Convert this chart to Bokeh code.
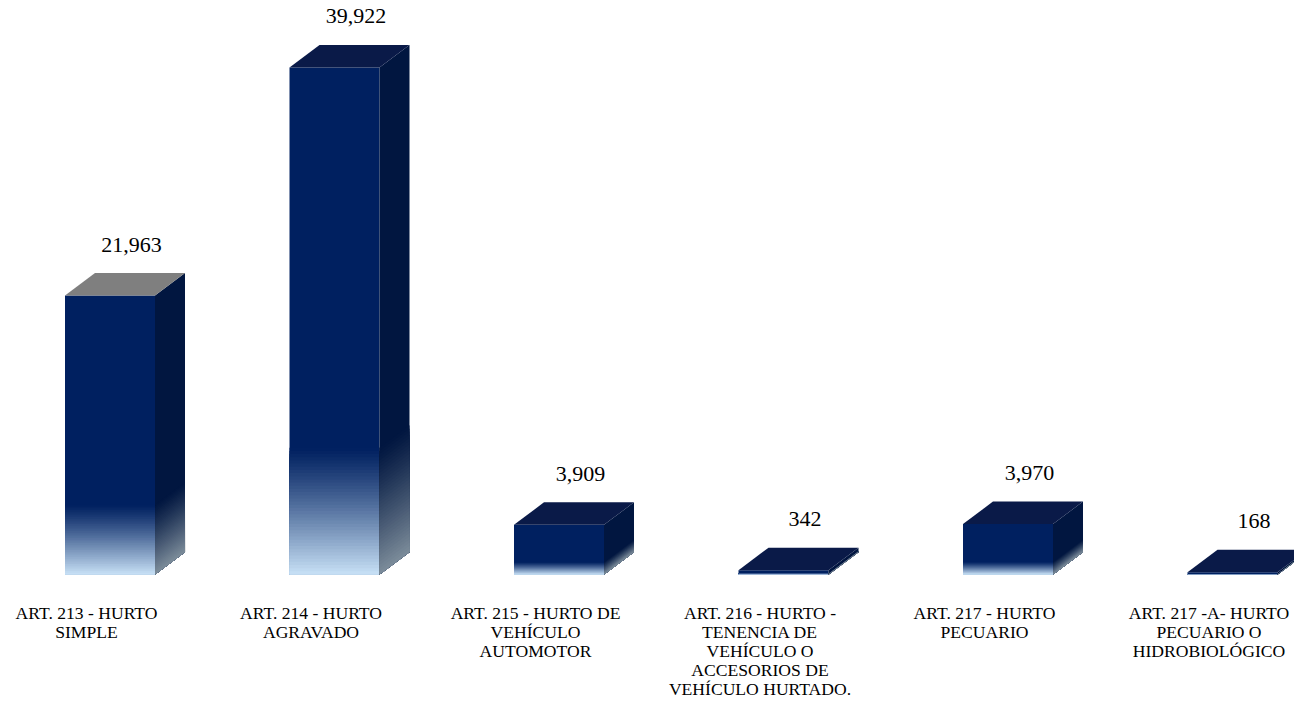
import numpy as np
from bokeh.plotting import figure
from bokeh.models import Range1d
from bokeh.embed import file_html
from bokeh.resources import INLINE
from bokeh.core.properties import value

# ---------------- data ----------------
categories = [
    "ART. 213 - HURTO\nSIMPLE",
    "ART. 214 - HURTO\nAGRAVADO",
    "ART. 215 - HURTO DE\nVEHÍCULO\nAUTOMOTOR",
    "ART. 216 - HURTO -\nTENENCIA DE\nVEHÍCULO O\nACCESORIOS DE\nVEHÍCULO HURTADO.",
    "ART. 217 - HURTO\nPECUARIO",
    "ART. 217 -A- HURTO\nPECUARIO O\nHIDROBIOLÓGICO",
]
counts = [21963, 39922, 3909, 342, 3970, 168]

# ---------------- styles ----------------
TOP_COLORS = ["#7f7f7f", "#0a1a48", "#0a1a48", "#0a1a48", "#0a1a48", "#0a1a48"]
FRONT_TOP = (0, 32, 96)
FRONT_BOTTOM = (200, 225, 246)
SIDE_TOP = (1, 22, 64)
SIDE_BOTTOM = (124, 140, 154)
GRAD_FRAC = 0.25
NSTEP = 40
SERIF = "Liberation Serif"

W, H = 1294, 704
BASE_PX = 574            # baseline (value 0) from top of frame, px
X0 = 0.1169
px_x = 1 / 224.5
X1 = X0 + W * px_x
px_y = 78.73
Y1 = BASE_PX * px_y
Y0 = -(H - BASE_PX) * px_y
DX = 30 * px_x
DY = 22.5 * px_y
HALF = 45 * px_x
SHIFT = 23.5 * px_x
LINE_PX = 19

p = figure(width=W, height=H, x_range=Range1d(X0, X1), y_range=Range1d(Y0, Y1),
           output_backend="svg", toolbar_location=None,
           x_axis_location=None, y_axis_location=None,
           min_border_left=0, min_border_right=0, min_border_top=0,
           min_border_bottom=0)
p.outline_line_color = None
p.xgrid.visible = False
p.ygrid.visible = False
p.background_fill_color = "white"
p.border_fill_color = "white"


def mix(c0, c1, t):
    return "#%02x%02x%02x" % tuple(int(round(a + (b - a) * t)) for a, b in zip(c0, c1))


ticks = [i + 0.5 for i in range(len(categories))]

fx, fy, fc = [], [], []
sx, sy, sc = [], [], []
tx, ty, tc = [], [], []
for i, (t, v) in enumerate(zip(ticks, counts)):
    xl = t + SHIFT - HALF
    xr = t + SHIFT + HALF
    fx.append([xl, xr, xr, xl]); fy.append([0, 0, v, v]); fc.append(mix(FRONT_TOP, FRONT_TOP, 0))
    sx.append([xr, xr + DX, xr + DX, xr]); sy.append([0, DY, v + DY, v])
    sc.append(mix(SIDE_TOP, SIDE_TOP, 0))
    g = GRAD_FRAC * v
    for k in range(NSTEP, 0, -1):
        h = g * k / NSTEP
        tcol = (1 - (k - 0.5) / NSTEP) ** 1.15
        fx.append([xl, xr, xr, xl]); fy.append([0, 0, h, h]); fc.append(mix(FRONT_TOP, FRONT_BOTTOM, tcol))
        sx.append([xr, xr + DX, xr + DX, xr]); sy.append([0, DY, h + DY, h])
        sc.append(mix(SIDE_TOP, SIDE_BOTTOM, tcol))
    tx.append([xl, xr, xr + DX, xl + DX]); ty.append([v, v, v + DY, v + DY]); tc.append(TOP_COLORS[i])

p.patches(fx, fy, fill_color=fc, line_color=None)
p.patches(sx, sy, fill_color=sc, line_color=None)
p.patches(tx, ty, fill_color=tc, line_color=None)

labels = ["{:,}".format(c) for c in counts]
p.text(x=[t + 0.2 for t in ticks], y=counts, text=labels, y_offset=-51,
       text_align="center", text_baseline="middle", text_color="black",
       text_font=value(SERIF), text_font_size="22px")

# category labels under the baseline, one line at a time
lx, ly, lt = [], [], []
for t, c in zip(ticks, categories):
    for j, line in enumerate(c.split("\n")):
        lx.append(t)
        ly.append(-(38 + LINE_PX * j) * px_y)
        lt.append(line)
p.text(x=lx, y=ly, text=lt, text_align="center", text_baseline="middle",
       text_color="black", text_font=value(SERIF), text_font_size="17.6px")

open("out.html", "w").write(file_html(p, INLINE))
